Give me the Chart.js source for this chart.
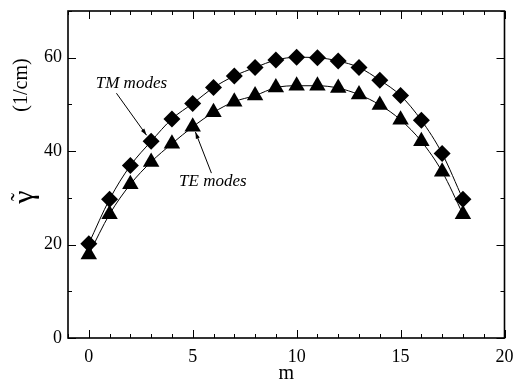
<!DOCTYPE html>
<html>
<head>
<meta charset="utf-8">
<script src="https://cdn.jsdelivr.net/npm/chart.js@4/dist/chart.umd.min.js"></script>
<style>
  body { margin: 0; background: #fff; }
  canvas { display: block; }
</style>
</head>
<body>
<canvas id="gammaChart" width="514" height="383"></canvas>
<script>
// mode number
const modeM = [0, 1, 2, 3, 4, 5, 6, 7, 8, 9, 10, 11, 12, 13, 14, 15, 16, 17, 18];
// gain coefficient, 1/cm
const tmGamma = [20.2, 29.7, 36.9, 42.1, 46.9, 50.2, 53.6, 56.1, 57.9, 59.5, 60.1, 60.0, 59.3, 57.9, 55.2, 51.9, 46.6, 39.5, 29.7];
const teGamma = [17.9, 26.5, 32.9, 37.7, 41.6, 45.2, 48.3, 50.6, 51.9, 53.6, 54.0, 54.0, 53.5, 52.1, 49.9, 46.7, 42.1, 35.6, 26.5];

const xTicks = [0, 5, 10, 15, 20];
const yTicks = [0, 20, 40, 60];

// labels with arrows, in data units: text position, arrow start, arrow tip
const notes = [
  { text: 'TM modes', at: [2.05, 54.4], from: [1.33, 52.4], to: [2.78, 43.4] },
  { text: 'TE modes', at: [5.97, 33.5], from: [5.9, 35.3], to: [5.13, 44.1] }
];

const SERIF = '"Liberation Serif", "Times New Roman", serif';

const toPoints = ys => modeM.map((m, i) => ({ x: m, y: ys[i] }));

// no label overhang padding, the frame is placed by layout.padding
function fixBox(s, size) {
  if (s.isHorizontal()) s.height = size; else s.width = size;
  s.paddingTop = s.paddingBottom = s.paddingLeft = s.paddingRight = 0;
}

// frame, inward ticks on all four sides
const framePlugin = {
  id: 'frame',
  afterDatasetsDraw(chart) {
    const { ctx, chartArea: a, scales: { x, y } } = chart;
    ctx.save();
    ctx.strokeStyle = '#000';
    ctx.lineWidth = 1;
    for (let v = -1; v <= 20; v++) {
      const px = Math.round(x.getPixelForValue(v)) + 0.5;
      const len = v % 5 === 0 ? 8 : 4;
      ctx.beginPath();
      ctx.moveTo(px, a.bottom); ctx.lineTo(px, a.bottom - len);
      ctx.moveTo(px, a.top); ctx.lineTo(px, a.top + len);
      ctx.stroke();
    }
    for (let v = 0; v <= 70; v += 10) {
      const py = Math.round(y.getPixelForValue(v)) + 0.5;
      const len = v % 20 === 0 ? 8 : 4;
      ctx.beginPath();
      ctx.moveTo(a.left, py); ctx.lineTo(a.left + len, py);
      ctx.moveTo(a.right, py); ctx.lineTo(a.right - len, py);
      ctx.stroke();
    }
    ctx.lineWidth = 1.6;
    ctx.strokeRect(a.left, a.top, a.right - a.left, a.bottom - a.top);
    ctx.restore();
  }
};

// "TM modes" / "TE modes" labels with arrows
const notesPlugin = {
  id: 'notes',
  afterDatasetsDraw(chart) {
    const { ctx, scales: { x, y } } = chart;
    ctx.save();
    ctx.fillStyle = '#000';
    ctx.strokeStyle = '#000';
    ctx.lineWidth = 1;
    ctx.font = 'italic 17px ' + SERIF;
    ctx.textAlign = 'center';
    ctx.textBaseline = 'middle';
    notes.forEach(n => {
      ctx.fillText(n.text, x.getPixelForValue(n.at[0]), y.getPixelForValue(n.at[1]));
      const x0 = x.getPixelForValue(n.from[0]), y0 = y.getPixelForValue(n.from[1]);
      const x1 = x.getPixelForValue(n.to[0]), y1 = y.getPixelForValue(n.to[1]);
      const ang = Math.atan2(y1 - y0, x1 - x0);
      ctx.beginPath();
      ctx.moveTo(x0, y0); ctx.lineTo(x1, y1);
      ctx.stroke();
      ctx.beginPath();
      ctx.moveTo(x1, y1);
      ctx.lineTo(x1 - 7 * Math.cos(ang - 0.3), y1 - 7 * Math.sin(ang - 0.3));
      ctx.lineTo(x1 - 7 * Math.cos(ang + 0.3), y1 - 7 * Math.sin(ang + 0.3));
      ctx.closePath();
      ctx.fill();
    });
    ctx.restore();
  }
};

// rotated y title: gamma with a tilde over it, then the unit
const yTitlePlugin = {
  id: 'yTitle',
  afterDraw(chart) {
    const { ctx } = chart;
    ctx.save();
    ctx.fillStyle = '#000';
    ctx.textAlign = 'center';
    ctx.textBaseline = 'alphabetic';
    ctx.translate(33, 197);
    ctx.rotate(-Math.PI / 2);
    ctx.font = '30px ' + SERIF;
    ctx.fillText('\u03B3', 0, 0);
    ctx.font = '24px ' + SERIF;
    ctx.fillText('\u02DC', 0, -6);
    ctx.restore();

    ctx.save();
    ctx.fillStyle = '#000';
    ctx.textBaseline = 'middle';
    ctx.textAlign = 'center';
    ctx.translate(22, 85);
    ctx.rotate(-Math.PI / 2);
    ctx.font = '20px ' + SERIF;
    ctx.fillText('(1/cm)', 0, 0);
    ctx.restore();
  }
};

new Chart(document.getElementById('gammaChart'), {
  type: 'line',
  data: {
    datasets: [
      {
        label: 'TM modes',
        data: toPoints(tmGamma),
        borderColor: '#000',
        borderWidth: 1,
        backgroundColor: '#000',
        pointStyle: 'rectRot',
        pointRadius: 8.5,
        pointBorderWidth: 0,
        pointBackgroundColor: '#000',
        cubicInterpolationMode: 'monotone',
        fill: false
      },
      {
        label: 'TE modes',
        data: toPoints(teGamma),
        borderColor: '#000',
        borderWidth: 1,
        backgroundColor: '#000',
        pointStyle: 'triangle',
        pointRadius: 9.5,
        pointBorderWidth: 0,
        pointBackgroundColor: '#000',
        cubicInterpolationMode: 'monotone',
        fill: false
      }
    ]
  },
  options: {
    responsive: false,
    animation: false,
    events: [],
    layout: { padding: { top: 11, right: 9, left: 0, bottom: 0 } },
    plugins: {
      legend: { display: false },
      tooltip: { enabled: false }
    },
    scales: {
      x: {
        type: 'linear',
        min: -1,
        max: 20,
        afterFit(s) { fixBox(s, 45); },
        afterBuildTicks(s) { s.ticks = xTicks.map(v => ({ value: v })); },
        grid: { display: false, drawTicks: false },
        border: { display: false },
        ticks: { color: '#000', padding: 8, font: { family: SERIF, size: 18 } },
        title: { display: true, text: 'm', color: '#000', padding: { top: 0, bottom: -3 }, font: { family: SERIF, size: 20 } }
      },
      y: {
        min: 0,
        max: 70,
        afterFit(s) { fixBox(s, 68); },
        afterBuildTicks(s) { s.ticks = yTicks.map(v => ({ value: v })); },
        grid: { display: false, drawTicks: false },
        border: { display: false },
        ticks: { color: '#000', padding: 6, font: { family: SERIF, size: 18 } }
      }
    }
  },
  plugins: [framePlugin, notesPlugin, yTitlePlugin]
});
</script>
</body>
</html>
